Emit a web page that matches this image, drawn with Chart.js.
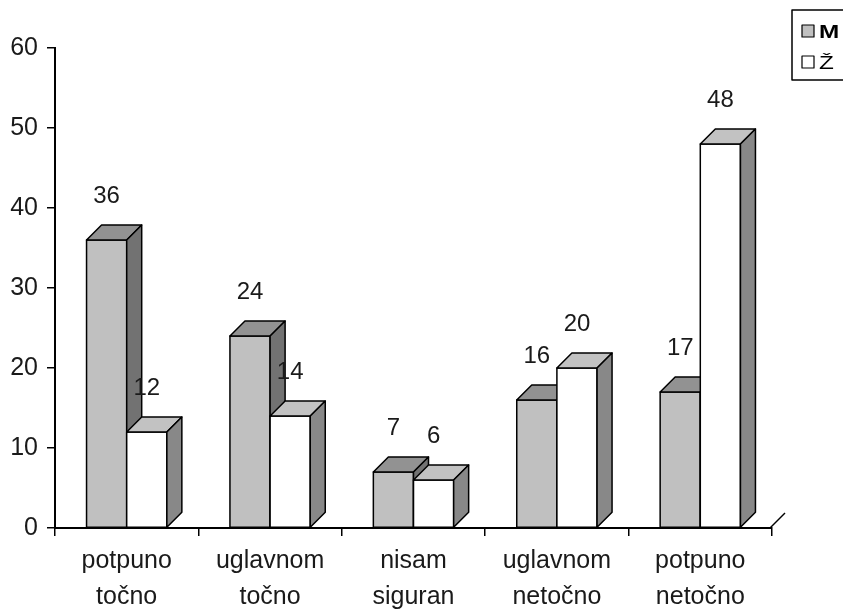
<!DOCTYPE html>
<html>
<head>
<meta charset="utf-8">
<script src="https://cdn.jsdelivr.net/npm/chart.js@4.4.0/dist/chart.umd.min.js"></script>
<style>
html,body{margin:0;padding:0;background:#fff}
#okvir{width:843px;height:610px}
</style>
</head>
<body>
<div id="okvir"><canvas id="grafikon"></canvas></div>
<script>
// podaci
const kategorije = [["potpuno","točno"],["uglavnom","točno"],["nisam","siguran"],["uglavnom","netočno"],["potpuno","netočno"]];
const serije = ["M","Ž"];
const vrijednostiM = [36,24,7,16,17];
const vrijednostiZ = [12,14,6,20,48];
const osY = {min:0, max:60, korak:10};

// boje lica kocke: prednje, gornje, bočno
const boje = [
    {prednja:"#c0c0c0", gornja:"#929292", bocna:"#727272"},
    {prednja:"#ffffff", gornja:"#c2c2c2", bocna:"#888888"}
];
const dubina = 15;
const pismo = "'Liberation Sans', Arial, sans-serif";

Chart.defaults.font.family = pismo;
Chart.defaults.color = "#1a1a1a";

function poligon(ctx, tocke, boja){
    ctx.beginPath();
    ctx.moveTo(tocke[0][0], tocke[0][1]);
    for(let i=1;i<tocke.length;i++) ctx.lineTo(tocke[i][0], tocke[i][1]);
    ctx.closePath();
    ctx.fillStyle = boja;
    ctx.fill();
    ctx.stroke();
}

// 3D stupci, oznake vrijednosti i legenda
const kocke = {
    id:"kocke",
    afterDatasetsDraw(chart){
        const ctx = chart.ctx;
        const metas = chart.data.datasets.map((d,i)=>chart.getDatasetMeta(i));
        const a = chart.chartArea;
        ctx.save();
        ctx.lineWidth = 1.5;
        ctx.strokeStyle = "#000";
        ctx.lineJoin = "round";

        for(let k=0;k<chart.data.labels.length;k++){
            metas.forEach((meta,i)=>{
                const b = meta.data[k];
                const l = b.x - b.width/2, d = b.x + b.width/2, v = b.y, n = b.base;
                const c = boje[i];
                poligon(ctx, [[l,v],[d,v],[d,n],[l,n]], c.prednja);
                poligon(ctx, [[l,v],[l+dubina,v-dubina],[d+dubina,v-dubina],[d,v]], c.gornja);
                poligon(ctx, [[d,v],[d+dubina,v-dubina],[d+dubina,n-dubina],[d,n]], c.bocna);
            });
        }

        // kosa crta poda na kraju osi
        ctx.beginPath();
        ctx.moveTo(a.right-2, a.bottom);
        ctx.lineTo(a.right+dubina-2, a.bottom-dubina);
        ctx.stroke();

        // oznake vrijednosti
        ctx.font = "24px " + pismo;
        ctx.fillStyle = "#1a1a1a";
        ctx.textAlign = "center";
        ctx.textBaseline = "middle";
        metas.forEach((meta,i)=>{
            meta.data.forEach((b,k)=>{
                ctx.fillText(chart.data.datasets[i].data[k], b.x, b.y - 44);
            });
        });

        // legenda
        ctx.lineWidth = 1.5;
        ctx.strokeRect(792, 10, 80, 70);
        ctx.textAlign = "left";
        ctx.textBaseline = "alphabetic";
        serije.forEach((s,i)=>{
            const y = 25 + i*31;
            ctx.fillStyle = boje[i].prednja;
            ctx.fillRect(802, y, 12, 12);
            ctx.lineWidth = 1.2;
            ctx.strokeRect(802, y, 12, 12);
            ctx.fillStyle = "#000";
            ctx.font = (i === 0 ? "bold " : "") + "18px " + pismo;
            ctx.save();
            ctx.translate(819, y + 13);
            ctx.scale(1.35, 1);
            ctx.fillText(s, 0, 0);
            ctx.restore();
        });
        ctx.restore();
    }
};

new Chart(document.getElementById("grafikon"), {
    type:"bar",
    data:{
        labels: kategorije,
        datasets:[
            {label:serije[0], data:vrijednostiM, backgroundColor:boje[0].prednja},
            {label:serije[1], data:vrijednostiZ, backgroundColor:boje[1].prednja}
        ]
    },
    options:{
        responsive:true,
        maintainAspectRatio:false,
        animation:false,
        layout:{padding:{top:48, right:71, left:0, bottom:0}},
        plugins:{legend:{display:false}, tooltip:{enabled:false}},
        datasets:{bar:{categoryPercentage:0.56, barPercentage:1}},
        scales:{
            x:{
                grid:{display:true, drawOnChartArea:false, tickLength:8, color:"#000", lineWidth:1.5, offset:true},
                border:{display:true, color:"#000", width:2},
                ticks:{font:{size:25, lineHeight:1.44}, padding:7, maxRotation:0, autoSkip:false},
                afterFit(s){ s.height = 82; }
            },
            y:{
                min:osY.min, max:osY.max,
                grid:{display:true, drawOnChartArea:false, tickLength:8, color:"#000", lineWidth:1.5},
                border:{display:true, color:"#000", width:2},
                ticks:{stepSize:osY.korak, font:{size:25}, padding:9},
                afterFit(s){ s.width = 55; }
            }
        }
    },
    plugins:[kocke]
});
</script>
</body>
</html>
